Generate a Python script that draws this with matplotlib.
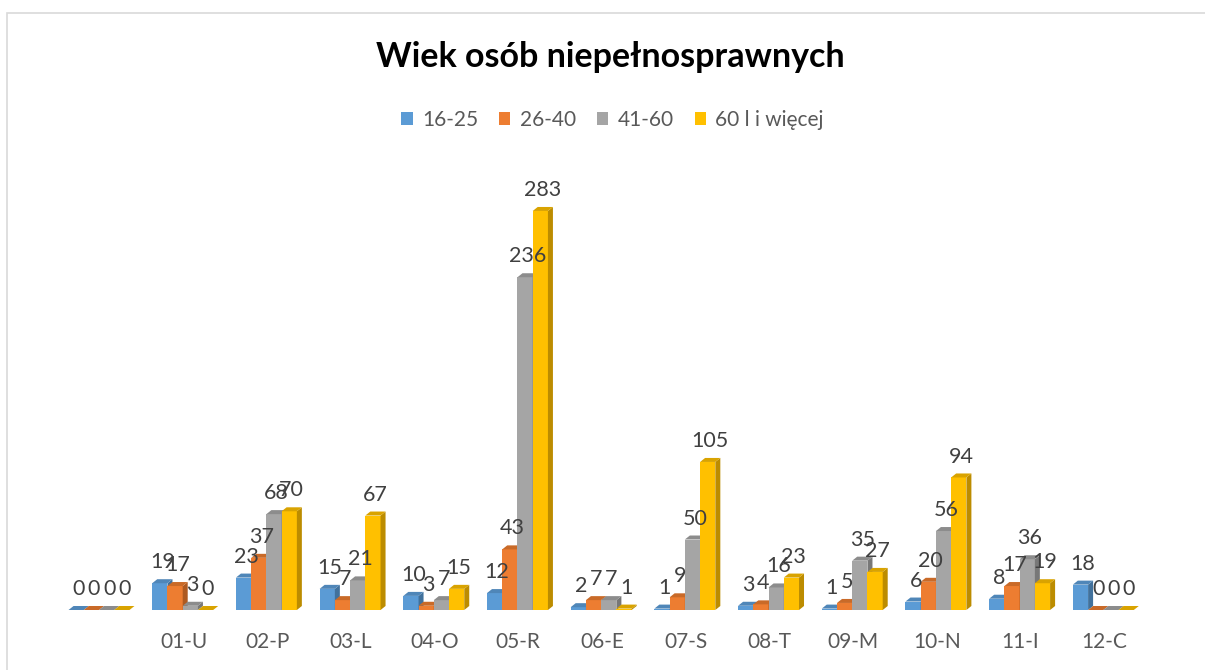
import matplotlib
matplotlib.use("Agg")
import matplotlib.pyplot as plt
from matplotlib.patches import Polygon, Patch, Rectangle
import numpy as np

categories = ["", "01-U", "02-P", "03-L", "04-O", "05-R", "06-E", "07-S", "08-T", "09-M", "10-N", "11-I", "12-C"]
series_names = ["16-25", "26-40", "41-60", "60 l i więcej"]
s_16_25 = [0, 19, 23, 15, 10, 12, 2, 1, 3, 1, 6, 8, 18]
s_26_40 = [0, 17, 37, 7, 3, 43, 7, 9, 4, 5, 20, 17, 0]
s_41_60 = [0, 3, 68, 21, 7, 236, 7, 50, 16, 35, 56, 36, 0]
s_60_plus = [0, 0, 70, 67, 15, 283, 1, 105, 23, 27, 94, 19, 0]
series = [s_16_25, s_26_40, s_41_60, s_60_plus]

front = ["#5B9BD5", "#ED7D31", "#A5A5A5", "#FFC000"]
side = ["#41719C", "#AE5A21", "#787878", "#BC8C00"]
top = ["#4F86B8", "#C96A28", "#8C8C8C", "#D9A300"]

plt.rcParams['font.family'] = ['Lato', 'DejaVu Sans']

W, H = 1205, 670
fig = plt.figure(figsize=(W / 100, H / 100), dpi=100)

left_px, right_px = 58, 1146
base_px = 610
ymax = 320
px_per_unit_y = 1.41
top_px = base_px - ymax * px_per_unit_y
ax = fig.add_axes([left_px / W, (H - base_px) / H, (right_px - left_px) / W, (base_px - top_px) / H])
ax.set_xlim(-0.5, len(categories) - 0.5)
ax.set_ylim(0, ymax)
for sp in ax.spines.values():
    sp.set_visible(False)
ax.set_yticks([])

x = np.arange(len(categories))
bw = 0.182
px_per_unit_x = (right_px - left_px) / len(categories)
dx = 5 / px_per_unit_x
dy = 4 / px_per_unit_y

for i, vals in enumerate(series):
    offs = (i - 1.5) * bw - 0.01
    bars = ax.bar(x + offs, vals, width=bw, color=front[i], zorder=3 + i * 3, linewidth=0)
    for b, v in zip(bars, vals):
        x0 = b.get_x()
        x1 = x0 + b.get_width()
        h = b.get_height()
        ax.add_patch(Polygon([(x1, 0), (x1 + dx, dy), (x1 + dx, h + dy), (x1, h)],
                             closed=True, facecolor=side[i], edgecolor='none', zorder=3 + i * 3 + 1))
        ax.add_patch(Polygon([(x0, h), (x0 + dx, h + dy), (x1 + dx, h + dy), (x1, h)],
                             closed=True, facecolor=top[i], edgecolor='none', zorder=3 + i * 3 + 2))
        ax.annotate(str(v), (x0 + bw / 2 + dx / 2, h + dy), xytext=(0, 5), textcoords='offset points',
                    ha='center', va='bottom', fontsize=15.5, color='#404040', zorder=30, clip_on=False)

ax.set_xticks(x)
ax.set_xticklabels(categories, fontsize=15, color='#595959')
ax.tick_params(axis='x', length=0, pad=16)

fig.text(0.5 + 8 / W, 1 - 57 / H, "Wiek osób niepełnosprawnych", ha='center', va='center',
         fontsize=24.5, fontweight='bold', color='black')

handles = [Patch(facecolor=c, edgecolor='none') for c in front]
fig.legend(handles, series_names, loc='center', bbox_to_anchor=(0.5 + 10 / W, 1 - 120 / H), ncol=4,
           frameon=False, fontsize=15, labelcolor='#595959', handlelength=0.55, handleheight=0.55,
           handletextpad=0.45, columnspacing=1.0)

fig.add_artist(Rectangle((7 / W, -0.01), 1.2, 1 - 12.5 / H + 0.01, transform=fig.transFigure,
                         fill=False, edgecolor='#D9D9D9', linewidth=1.2))

fig.savefig("out.png", dpi=100)
